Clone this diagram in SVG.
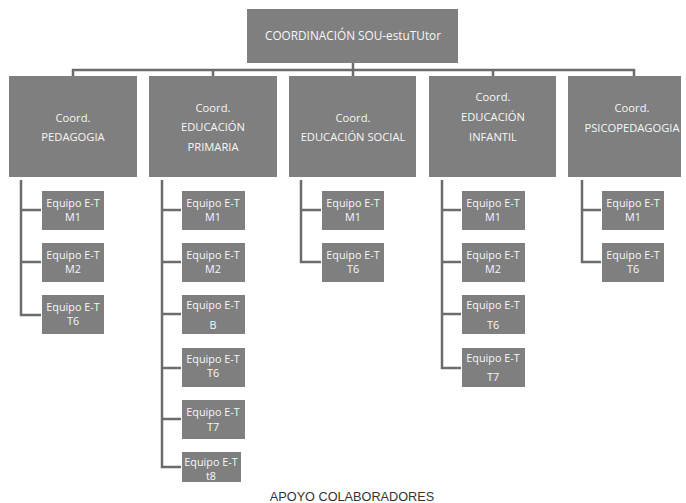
<svg xmlns="http://www.w3.org/2000/svg" width="686" height="503" viewBox="0 0 686 503">
<style>
.b{fill:#7f7f7f}
.t{font-family:"Open Sans","Noto Sans",sans-serif;fill:#f7f7f7;text-anchor:middle}
.l2{font-size:11.2px}
.c{font-size:10.8px}
.ln{stroke:#6b6b6b;stroke-width:2.5;fill:none}
</style>
<rect width="686" height="503" fill="#ffffff"/>
<g id="connectors" class="ln">
<path d="M353,63V70M73,77V70H634V77M213,70V77M353,70V77M493,70V77"/>
<path d="M21,180V315H41M21,210H41M21,262H41"/>
<path d="M162,180V467H181M162,210H181M162,262H181M162,314H181M162,368H181M162,419H181"/>
<path d="M301,180V262H321M301,210H321"/>
<path d="M442,180V368H461M442,210H461M442,262H461M442,314H461"/>
<path d="M582,180V262H601M582,210H601"/>
</g>
<g id="top"><rect class="b" x="247" y="9" width="211" height="54"/><text class="t" x="353" y="40" font-size="11.8">COORDINACIÓN SOU-estuTUtor</text></g>
<g id="pedagogia"><rect class="b" x="9" y="76" width="128" height="101"/><text class="t l2" x="73" y="122">Coord.</text><text class="t l2" x="73" y="141">PEDAGOGIA</text></g>
<g id="primaria"><rect class="b" x="149" y="76" width="128" height="101"/><text class="t l2" x="213" y="112">Coord.</text><text class="t l2" x="213" y="131">EDUCACIÓN</text><text class="t l2" x="213" y="151">PRIMARIA</text></g>
<g id="social"><rect class="b" x="289" y="76" width="127" height="101"/><text class="t l2" x="353" y="122">Coord.</text><text class="t l2" x="353" y="141">EDUCACIÓN  SOCIAL</text></g>
<g id="infantil"><rect class="b" x="429" y="76" width="127" height="101"/><text class="t l2" x="493" y="101">Coord.</text><text class="t l2" x="493" y="121">EDUCACIÓN</text><text class="t l2" x="493" y="141">INFANTIL</text></g>
<g id="psico"><rect class="b" x="568" y="76" width="113" height="101"/><text class="t l2" x="632" y="112">Coord.</text><text class="t l2" x="632" y="132">PSICOPEDAGOGIA</text></g>

<g id="c1m1"><rect class="b" x="42" y="191" width="62" height="39"/><text class="t c" x="73" y="207">Equipo E-T</text><text class="t c" x="73" y="221">M1</text></g>
<g id="c1m2"><rect class="b" x="42" y="243" width="62" height="39"/><text class="t c" x="73" y="259">Equipo E-T</text><text class="t c" x="73" y="273">M2</text></g>
<g id="c1t6"><rect class="b" x="42" y="295" width="62" height="39"/><text class="t c" x="73" y="311">Equipo E-T</text><text class="t c" x="73" y="325">T6</text></g>

<g id="c2m1"><rect class="b" x="182" y="191" width="63" height="39"/><text class="t c" x="213" y="207">Equipo E-T</text><text class="t c" x="213" y="221">M1</text></g>
<g id="c2m2"><rect class="b" x="182" y="243" width="63" height="39"/><text class="t c" x="213" y="259">Equipo E-T</text><text class="t c" x="213" y="273">M2</text></g>
<g id="c2b"><rect class="b" x="182" y="295" width="63" height="39"/><text class="t c" x="213" y="309">Equipo E-T</text><text class="t c" x="213" y="329">B</text></g>
<g id="c2t6"><rect class="b" x="182" y="348" width="63" height="39"/><text class="t c" x="213" y="363">Equipo E-T</text><text class="t c" x="213" y="377">T6</text></g>
<g id="c2t7"><rect class="b" x="182" y="400" width="63" height="39"/><text class="t c" x="213" y="416">Equipo E-T</text><text class="t c" x="213" y="431">T7</text></g>
<g id="c2t8"><rect class="b" x="182" y="452" width="59" height="30"/><text class="t c" x="211" y="466">Equipo E-T</text><text class="t c" x="211" y="480">t8</text></g>

<g id="c3m1"><rect class="b" x="322" y="191" width="62" height="39"/><text class="t c" x="353" y="207">Equipo E-T</text><text class="t c" x="353" y="221">M1</text></g>
<g id="c3t6"><rect class="b" x="322" y="243" width="62" height="39"/><text class="t c" x="353" y="259">Equipo E-T</text><text class="t c" x="353" y="273">T6</text></g>

<g id="c4m1"><rect class="b" x="462" y="191" width="63" height="39"/><text class="t c" x="493" y="207">Equipo E-T</text><text class="t c" x="493" y="221">M1</text></g>
<g id="c4m2"><rect class="b" x="462" y="243" width="63" height="39"/><text class="t c" x="493" y="259">Equipo E-T</text><text class="t c" x="493" y="273">M2</text></g>
<g id="c4t6"><rect class="b" x="462" y="295" width="63" height="39"/><text class="t c" x="493" y="309">Equipo E-T</text><text class="t c" x="493" y="329">T6</text></g>
<g id="c4t7"><rect class="b" x="462" y="348" width="63" height="39"/><text class="t c" x="493" y="362">Equipo E-T</text><text class="t c" x="493" y="381">T7</text></g>

<g id="c5m1"><rect class="b" x="602" y="191" width="62" height="39"/><text class="t c" x="633" y="207">Equipo E-T</text><text class="t c" x="633" y="221">M1</text></g>
<g id="c5t6"><rect class="b" x="602" y="243" width="62" height="39"/><text class="t c" x="633" y="259">Equipo E-T</text><text class="t c" x="633" y="273">T6</text></g>

<text x="352" y="501" font-family="'Liberation Sans Narrow','Liberation Sans',Arial,sans-serif" font-size="12.7" fill="#333333" text-anchor="middle">APOYO COLABORADORES</text>
</svg>
